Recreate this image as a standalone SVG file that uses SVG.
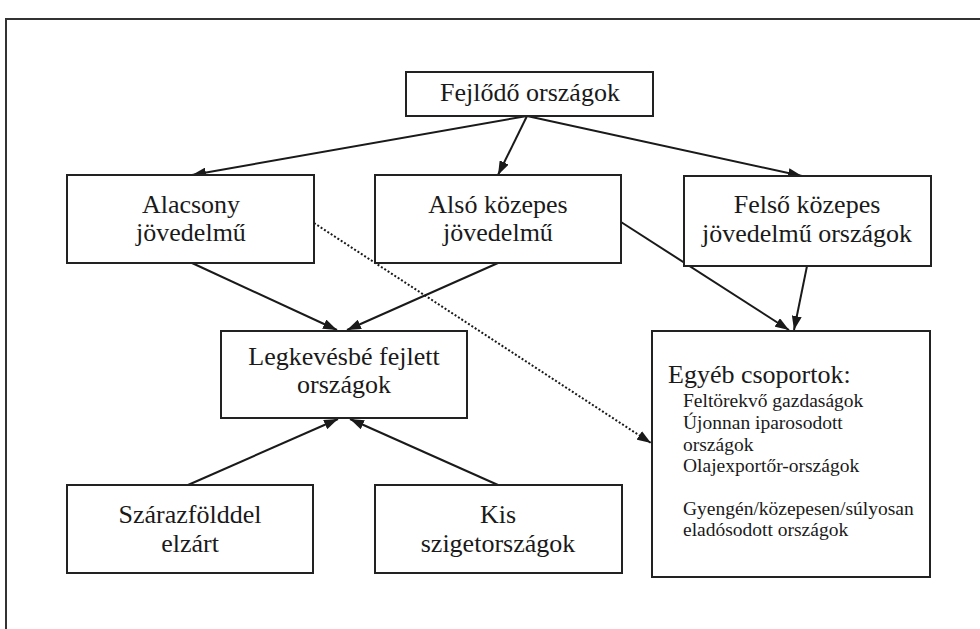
<svg xmlns="http://www.w3.org/2000/svg" width="980" height="629" viewBox="0 0 980 629">
<defs>
<style>
.box{fill:#fff;stroke:#222;stroke-width:2}
.t{font-family:"Liberation Serif","Times New Roman",serif;font-size:26px;fill:#1a1a1a;text-anchor:middle}
.s{font-family:"Liberation Serif","Times New Roman",serif;font-size:19.5px;fill:#1a1a1a}
.c{fill:none;stroke:#1a1a1a;stroke-width:2;marker-end:url(#ah)}
.d{fill:none;stroke:#1a1a1a;stroke-width:2;stroke-dasharray:2 2;marker-end:url(#ah)}
</style>
<marker id="ah" viewBox="0 0 14 10" refX="14" refY="5" markerWidth="14" markerHeight="10" markerUnits="userSpaceOnUse" orient="auto">
<path d="M0,0 L14,5 L0,10 z" fill="#1a1a1a"/>
</marker>
</defs>
<rect width="980" height="629" fill="#fff"/>
<path d="M6,629 V19 H980" fill="none" stroke="#333" stroke-width="2"/>
<g id="connectors">
<path class="c" d="M527,116 L192,175"/>
<path class="c" d="M527,116 L498,175"/>
<path class="c" d="M527,116 L802,176"/>
<path class="c" d="M192,263 L337,330"/>
<path class="c" d="M498,263 L347,330"/>
<path class="c" d="M621,222 L789,330"/>
<path class="c" d="M807,266 L794,330"/>
<path class="d" d="M314,223 L651,443"/>
<path class="c" d="M188,485 L338,419"/>
<path class="c" d="M498,485 L350,419"/>
</g>
<g id="fejlodo">
<rect class="box" x="406" y="72" width="247" height="44"/>
<text class="t" x="530" y="101">Fejlődő országok</text>
</g>
<g id="alacsony">
<rect class="box" x="67" y="175" width="247" height="88"/>
<text class="t" x="191" y="213">Alacsony</text>
<text class="t" x="191" y="241">jövedelmű</text>
</g>
<g id="also">
<rect class="box" x="375" y="175" width="246" height="88"/>
<text class="t" x="498" y="213">Alsó közepes</text>
<text class="t" x="498" y="241">jövedelmű</text>
</g>
<g id="felso">
<rect class="box" x="684" y="176" width="247" height="90"/>
<text class="t" x="807" y="213">Felső közepes</text>
<text class="t" x="807" y="242">jövedelmű országok</text>
</g>
<g id="legkevesbe">
<rect class="box" x="221" y="331" width="246" height="87"/>
<text class="t" x="344" y="365">Legkevésbé fejlett</text>
<text class="t" x="344" y="393">országok</text>
</g>
<g id="egyeb">
<rect class="box" x="652" y="331" width="278" height="246"/>
<text class="t" x="668" y="383" style="text-anchor:start">Egyéb csoportok:</text>
<text class="s" x="683" y="407">Feltörekvő gazdaságok</text>
<text class="s" x="683" y="429">Újonnan iparosodott</text>
<text class="s" x="683" y="451">országok</text>
<text class="s" x="683" y="472">Olajexportőr-országok</text>
<text class="s" x="683" y="515">Gyengén/közepesen/súlyosan</text>
<text class="s" x="683" y="536">eladósodott országok</text>
</g>
<g id="szarazfold">
<rect class="box" x="67" y="485" width="246" height="88"/>
<text class="t" x="190" y="523">Szárazfölddel</text>
<text class="t" x="190" y="552">elzárt</text>
</g>
<g id="kis">
<rect class="box" x="375" y="485" width="247" height="88"/>
<text class="t" x="498" y="523">Kis</text>
<text class="t" x="498" y="552">szigetországok</text>
</g>
</svg>
